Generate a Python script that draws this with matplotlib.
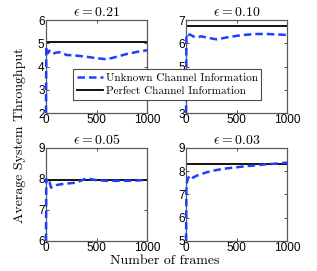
import numpy as np
import matplotlib
matplotlib.use('Agg')
import matplotlib.pyplot as plt

plt.rcParams['mathtext.fontset'] = 'cm'
plt.rcParams['axes.unicode_minus'] = False

#%% data
frames = [0, 3, 10, 20, 35, 50, 70, 100, 150, 200, 300, 400, 500, 600, 700, 800, 900, 1000]

eps_labels = ['0.21', '0.10', '0.05', '0.03']
unknown_021 = [2.0, 4.85, 4.72, 4.58, 4.68, 4.64, 4.55, 4.6, 4.62, 4.5, 4.47, 4.42, 4.36, 4.31, 4.42, 4.54, 4.63, 4.7]
unknown_010 = [3.0, 6.3, 6.4, 6.35, 6.38, 6.35, 6.3, 6.25, 6.3, 6.25, 6.17, 6.25, 6.32, 6.37, 6.4, 6.4, 6.38, 6.36]
unknown_005 = [6.0, 8.0, 7.9, 7.85, 7.9, 7.72, 7.75, 7.8, 7.83, 7.85, 7.88, 8.02, 7.96, 7.94, 7.94, 7.94, 7.95, 7.97]
unknown_003 = [5.0, 7.2, 7.55, 7.7, 7.8, 7.82, 7.72, 7.8, 7.87, 7.95, 8.05, 8.12, 8.17, 8.22, 8.26, 8.3, 8.33, 8.37]
perfect = [5.04, 6.76, 7.95, 8.31]
ylims = [(2, 6), (3, 7), (6, 9), (5, 9)]

unknown_all = [unknown_021, unknown_010, unknown_005, unknown_003]

#%% plot
fig = plt.figure(figsize=(3.17, 2.71), dpi=100)

positions = [[0.145, 0.583, 0.319, 0.343],
             [0.587, 0.583, 0.319, 0.343],
             [0.145, 0.111, 0.319, 0.343],
             [0.587, 0.111, 0.319, 0.343]]

for i in range(4):
    ax = fig.add_axes(positions[i])
    l1, = ax.plot(frames, unknown_all[i], '--', color='#1f3fff', lw=1.8, dashes=(3, 1.6),
                  zorder=3, clip_on=False)
    l2 = ax.axhline(perfect[i], color='black', lw=1.3)
    ax.set_xlim(0, 1000)
    ax.set_ylim(*ylims[i])
    ax.set_xticks([0, 500, 1000])
    ax.set_yticks(np.arange(ylims[i][0], ylims[i][1] + 1))
    ax.tick_params(direction='in', length=2.5, width=0.6, top=True, right=True,
                   labelsize=8.5, pad=1, colors='0.2')
    for lab in ax.get_xticklabels() + ax.get_yticklabels():
        lab.set_family('Liberation Sans')
        lab.set_color('black')
    for s in ax.spines.values():
        s.set_color('0.35')
        s.set_linewidth(0.9)
    ax.set_title(r'$\epsilon = %s$' % eps_labels[i], fontsize=10, pad=3)

leg = fig.legend([l1, l2], ['Unknown Channel Information', 'Perfect Channel Information'],
                 loc='center', bbox_to_anchor=(0.527, 0.688), fancybox=False,
                 framealpha=1, edgecolor='0.3', prop={'family': 'cmr10', 'size': 8},
                 handlelength=2.4, handletextpad=0.2, borderpad=0.35, labelspacing=0.3,
                 borderaxespad=0)
leg.get_frame().set_linewidth(0.8)
leg.set_zorder(5)

fig.text(0.52, 0.038, 'Number of frames', family='cmr10', fontsize=10, ha='center', va='center')
fig.text(0.063, 0.5, 'Average System Throughput', family='cmr10', fontsize=10,
         rotation=90, ha='center', va='center')

plt.savefig('out.png', dpi=100)
